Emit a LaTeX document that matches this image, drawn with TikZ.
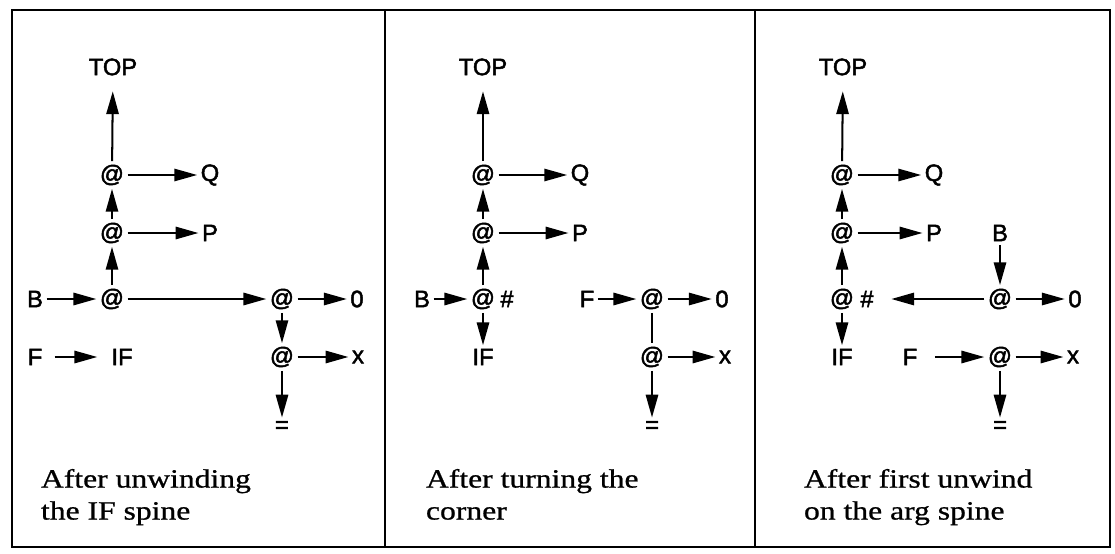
\documentclass[tikz,border=0pt]{standalone}
\usepackage{fontspec}
\setmainfont{Liberation Serif}
\setsansfont{Liberation Sans}
\newfontfamily\labfont[FakeBold=2]{Liberation Sans}
\newfontfamily\capfont[FakeStretch=1.2,FakeBold=0.8]{Liberation Serif}
\usetikzlibrary{arrows.meta}

\begin{document}
\begin{tikzpicture}[x=0.02cm,y=-0.02cm,>={Triangle[length=13pt,width=7pt]},
  lbl/.style={font=\labfont\fontsize{13.5}{16}\selectfont, inner sep=1.5pt},
  captext/.style={font=\capfont\fontsize{15}{18.2}\selectfont, align=left, anchor=north west, inner sep=0pt},
  every path/.style={line width=1.15pt}]
\useasboundingbox (0,0) rectangle (1115,554);
% frame
\draw[line width=1.3pt] (12,10) rectangle (1110,547);
\draw[line width=1.3pt] (385,10) -- (385,547);
\draw[line width=1.3pt] (755,10) -- (755,547);

% after unwinding the IF spine
\node[lbl] (top1) at (113,67) {TOP};
\node[lbl] (at1t) at (112,175) {@};
\node[lbl] (q1) at (210,175) {Q};
\node[lbl] (at1m) at (112,233) {@};
\node[lbl] (p1) at (210,233) {P};
\node[lbl] (b1) at (35,299) {B};
\node[lbl] (at1b) at (112,299) {@};
\node[lbl] (at1r) at (282,299) {@};
\node[lbl] (zero1) at (357,299) {0};
\node[lbl] (f1) at (35,357) {F};
\node[lbl] (if1) at (122,357) {IF};
\node[lbl] (at1s) at (282,357) {@};
\node[lbl] (x1) at (358,357) {x};
\node[lbl] (eq1) at (282,427) {=};
\draw[->, shorten >=7pt] (at1t) -- (top1);
\draw[->] (at1t) -- (q1);
\draw[->] (at1m) -- (at1t);
\draw[->] (at1m) -- (p1);
\draw[->] (at1b) -- (at1m);
\draw[->] (b1) -- (at1b);
\draw[->] (at1b) -- (at1r);
\draw[->] (at1r) -- (zero1);
\draw[->] (at1r) -- (at1s);
\draw[->] (at1s) -- (x1);
\draw[->] (at1s) -- (eq1);
\draw[->, shorten <=5pt, shorten >=6pt] (f1) -- (if1);
\node[captext] (cap1) at (40,468) {After unwinding\\the IF spine};

% after turning the corner
\node[lbl] (top2) at (483,67) {TOP};
\node[lbl] (at2t) at (483,175) {@};
\node[lbl] (q2) at (580,175) {Q};
\node[lbl] (at2m) at (483,233) {@};
\node[lbl] (p2) at (580,233) {P};
\node[lbl] (b2) at (422,299) {B};
\node[lbl] (at2b) at (483,299) {@};
\node[lbl] (hash2) at (507,299) {\#};
\node[lbl] (if2) at (483,357) {IF};
\node[lbl] (f2) at (587,299) {F};
\node[lbl] (at2r) at (652,299) {@};
\node[lbl] (zero2) at (722,299) {0};
\node[lbl] (at2s) at (652,357) {@};
\node[lbl] (x2) at (725,357) {x};
\node[lbl] (eq2) at (652,427) {=};
\draw[->, shorten >=7pt] (at2t) -- (top2);
\draw[->] (at2t) -- (q2);
\draw[->] (at2m) -- (at2t);
\draw[->] (at2m) -- (p2);
\draw[->] (at2b) -- (at2m);
\draw[->] (at2b) -- (if2);
\draw[->] (b2) -- (at2b);
\draw[->] (f2) -- (at2r);
\draw[->] (at2r) -- (zero2);
\draw (at2r) -- (at2s);
\draw[->] (at2s) -- (x2);
\draw[->] (at2s) -- (eq2);
\node[captext] (cap2) at (425,468) {After turning the\\corner};

% after first unwind on the arg spine
\node[lbl] (top3) at (843,67) {TOP};
\node[lbl] (at3t) at (842,175) {@};
\node[lbl] (q3) at (934,175) {Q};
\node[lbl] (at3m) at (842,233) {@};
\node[lbl] (p3) at (934,233) {P};
\node[lbl] (b3) at (1000,233) {B};
\node[lbl] (at3b) at (842,299) {@};
\node[lbl] (hash3) at (867,299) {\#};
\node[lbl] (if3) at (842,357) {IF};
\node[lbl] (at3r) at (1000,299) {@};
\node[lbl] (zero3) at (1075,299) {0};
\node[lbl] (f3) at (910,357) {F};
\node[lbl] (at3s) at (1000,357) {@};
\node[lbl] (x3) at (1073,357) {x};
\node[lbl] (eq3) at (1000,427) {=};
\draw[->, shorten >=7pt] (at3t) -- (top3);
\draw[->] (at3t) -- (q3);
\draw[->] (at3m) -- (at3t);
\draw[->] (at3m) -- (p3);
\draw[->] (at3b) -- (at3m);
\draw[->] (at3b) -- (if3);
\draw[->, shorten >=8pt] (at3r) -- (hash3);
\draw[->] (b3) -- (at3r);
\draw[->] (at3r) -- (zero3);
\draw[->, shorten <=8pt] (f3) -- (at3s);
\draw[->] (at3s) -- (x3);
\draw[->] (at3s) -- (eq3);
\node[captext] (cap3) at (803,468) {After first unwind\\on the arg spine};
\end{tikzpicture}
\end{document}
